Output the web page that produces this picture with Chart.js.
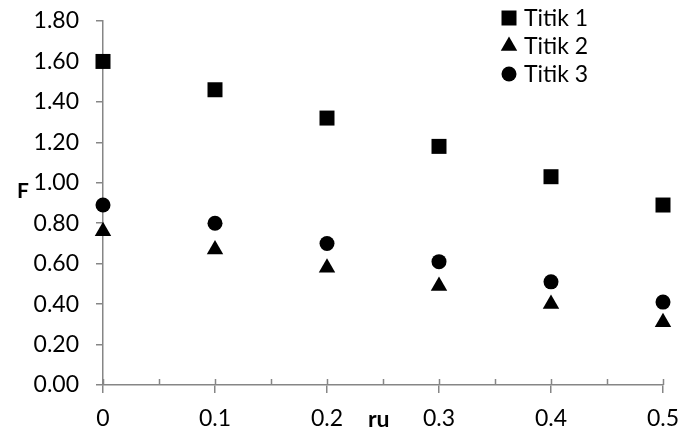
<!DOCTYPE html>
<html>
<head>
<meta charset="utf-8">
<title>F vs ru</title>
<script src="https://cdn.jsdelivr.net/npm/chart.js@4.4.1/dist/chart.umd.min.js"></script>
<style>
  html, body { margin: 0; padding: 0; background: #fff; }
  #wrap { width: 692px; height: 434px; }
</style>
</head>
<body>
<div id="wrap"><canvas id="chart" width="692" height="434"></canvas></div>
<script>
// values
const ruValues = [0, 0.1, 0.2, 0.3, 0.4, 0.5];
const titik1 = [1.60, 1.46, 1.32, 1.18, 1.03, 0.89];
const titik2 = [0.76, 0.67, 0.58, 0.49, 0.40, 0.31];
const titik3 = [0.89, 0.80, 0.70, 0.61, 0.51, 0.41];
const seriesNames = ['Titik 1', 'Titik 2', 'Titik 3'];

const FONT = 'Lato, "Open Sans", sans-serif';
const AXIS_GREY = '#868686';

const toPoints = ys => ys.map((y, i) => ({ x: ruValues[i], y: y }));

// legend in the top right corner, drawn with the dataset point styles
const cornerLegend = {
    id: 'cornerLegend',
    afterDraw(chart) {
        const ctx = chart.ctx;
        ctx.save();
        ctx.font = '23px ' + FONT;
        ctx.textBaseline = 'middle';
        ctx.textAlign = 'left';
        chart.data.datasets.forEach((ds, i) => {
            const y = 18 + i * 28;
            ctx.fillStyle = '#000';
            Chart.helpers.drawPoint(ctx, {
                pointStyle: ds.pointStyle,
                radius: ds.pointRadius,
                borderWidth: 0
            }, 509, y);
            ctx.fillStyle = '#000';
            ctx.fillText(ds.label, 524, y + 1);
        });
        ctx.restore();
    }
};

// axis titles (F beside the y labels, ru in the x label row) + small x ticks above the axis
const axisExtras = {
    id: 'axisExtras',
    afterDraw(chart) {
        const ctx = chart.ctx;
        const xs = chart.scales.x;
        const area = chart.chartArea;
        ctx.save();
        ctx.strokeStyle = AXIS_GREY;
        ctx.lineWidth = 1.5;
        for (let v = 0; v <= 0.5001; v += 0.05) {
            const px = Math.round(xs.getPixelForValue(v)) + 0.5;
            ctx.beginPath();
            ctx.moveTo(px, area.bottom);
            ctx.lineTo(px, area.bottom - 6);
            ctx.stroke();
        }
        ctx.fillStyle = '#000';
        ctx.textBaseline = 'alphabetic';
        ctx.textAlign = 'left';
        ctx.font = 'bold 21px ' + FONT;
        ctx.fillText('F', 17, 198);
        ctx.font = 'bold 23px ' + FONT;
        ctx.fillText('ru', 368, 427);
        ctx.restore();
    }
};

new Chart(document.getElementById('chart'), {
    type: 'scatter',
    data: {
        datasets: [
            { label: seriesNames[0], data: toPoints(titik1), pointStyle: 'rect', pointRadius: 10.6,
              backgroundColor: '#000', borderWidth: 0, clip: false },
            { label: seriesNames[1], data: toPoints(titik2), pointStyle: 'triangle', pointRadius: 9.5,
              backgroundColor: '#000', borderWidth: 0, clip: false },
            { label: seriesNames[2], data: toPoints(titik3), pointStyle: 'circle', pointRadius: 7.5,
              backgroundColor: '#000', borderWidth: 0, clip: false }
        ]
    },
    options: {
        responsive: false,
        animation: false,
        events: [],
        layout: { padding: { top: 21, right: 29, left: 0, bottom: 0 } },
        plugins: {
            legend: { display: false },
            tooltip: { enabled: false }
        },
        scales: {
            x: {
                type: 'linear',
                min: 0,
                max: 0.5,
                afterFit: s => { s.height = 49; },
                ticks: {
                    stepSize: 0.1,
                    color: '#000',
                    font: { family: FONT, size: 23 },
                    padding: 12,
                    maxRotation: 0,
                    callback: v => String(+v.toFixed(2))
                },
                grid: { drawOnChartArea: false, drawTicks: true, tickLength: 8, color: AXIS_GREY, lineWidth: 1.5 },
                border: { display: true, color: AXIS_GREY, width: 1.5 }
            },
            y: {
                min: 0,
                max: 1.8,
                afterFit: s => {
                    s.width = 103;
                    // the label padding would otherwise push the plot top down
                    s.paddingTop = 0;
                    s.paddingBottom = 0;
                },
                ticks: {
                    stepSize: 0.2,
                    color: '#000',
                    font: { family: FONT, size: 23 },
                    padding: 17,
                    callback: v => v.toFixed(2)
                },
                grid: { drawOnChartArea: false, drawTicks: true, tickLength: 7, color: AXIS_GREY, lineWidth: 1.5 },
                border: { display: true, color: AXIS_GREY, width: 1.5 }
            }
        }
    },
    plugins: [cornerLegend, axisExtras]
});
</script>
</body>
</html>
